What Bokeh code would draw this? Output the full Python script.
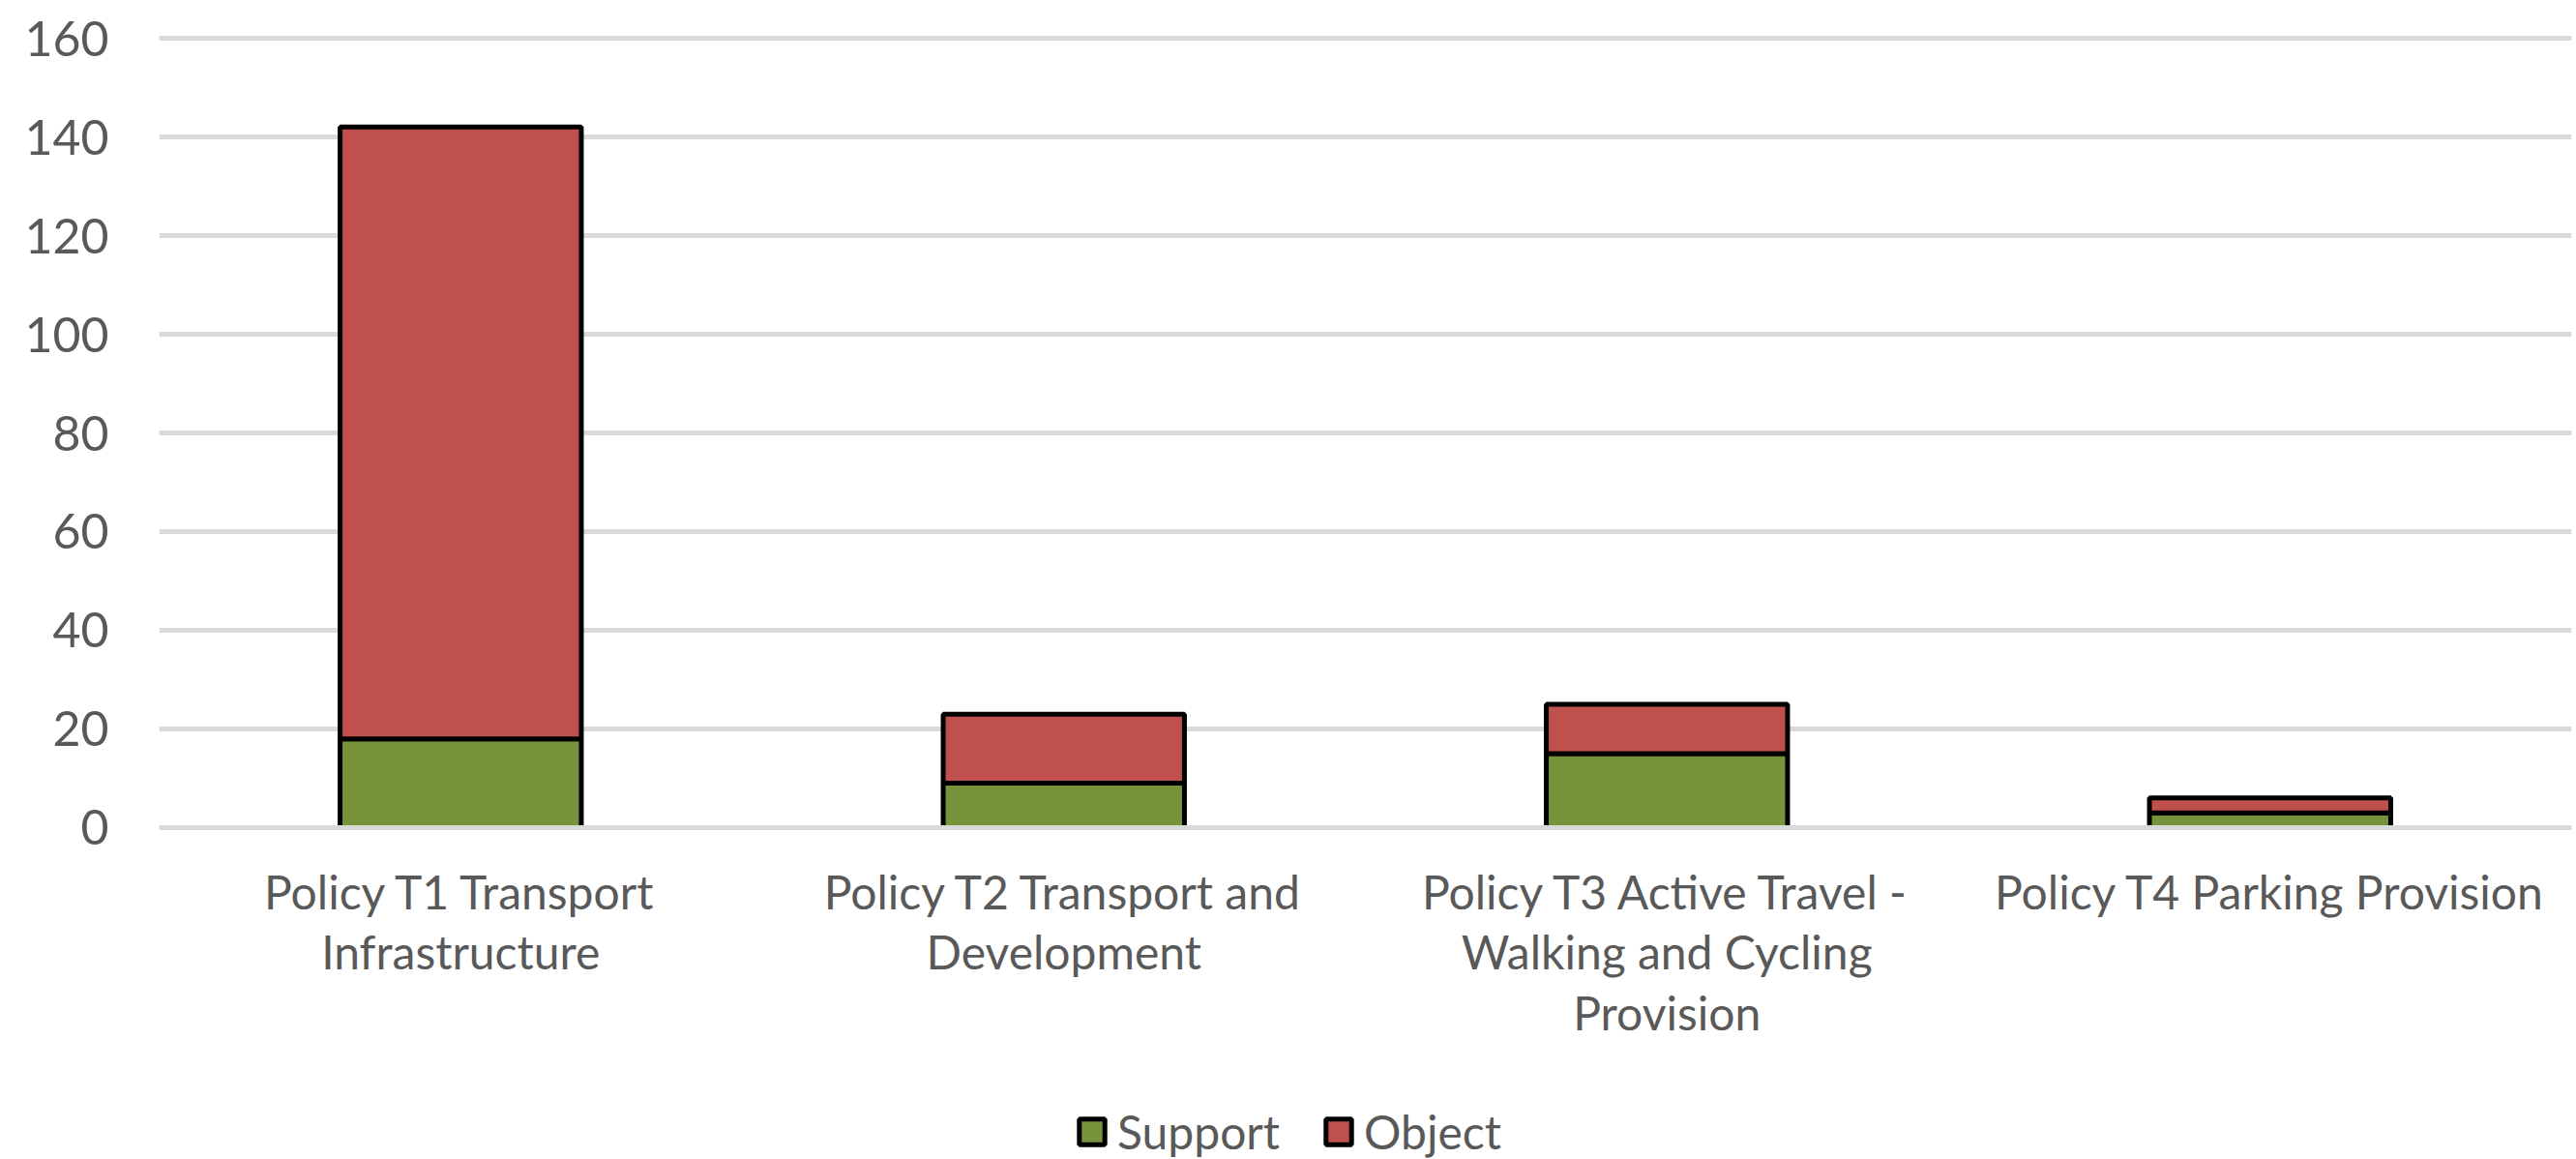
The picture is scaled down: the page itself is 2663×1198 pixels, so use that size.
from bokeh.plotting import figure
from bokeh.models import ColumnDataSource, Range1d, FixedTicker, Legend, LegendItem, Span
from bokeh.layouts import column
from bokeh.embed import file_html
from bokeh.resources import INLINE

# ---- data ----
categories = [
    "Policy T1 Transport\nInfrastructure",
    "Policy T2 Transport and\nDevelopment",
    "Policy T3 Active Travel -\nWalking and Cycling\nProvision",
    "Policy T4 Parking Provision",
]
support = [18, 9, 15, 3]
objection = [124, 14, 10, 3]
series_names = ["Support", "Object"]
y_ticks = [0, 20, 40, 60, 80, 100, 120, 140, 160]

GREEN = "#77933C"
RED = "#C0504D"
TEXT = "#595959"
GRID = "#D9D9D9"
FONT = "Lato"
COLORS = [GREEN, RED]

source = ColumnDataSource(dict(cat=categories, Support=support, Object=objection))

MAIN_H = 1110
p = figure(
    x_range=categories,
    y_range=Range1d(-0.6, 160.6),
    width=2663, height=MAIN_H,
    output_backend="svg", toolbar_location=None,
    min_border_left=164, min_border_right=5,
    min_border_top=36, min_border_bottom=252,
)
p.x_range.range_padding = 0

p.vbar_stack(
    series_names, x="cat", width=0.4, source=source,
    fill_color=COLORS, line_color="black", line_width=5,
)

p.outline_line_color = None
p.background_fill_color = "white"
p.border_fill_color = "white"

p.xgrid.grid_line_color = None
p.ygrid.grid_line_color = GRID
p.ygrid.grid_line_width = 5
p.ygrid.level = "underlay"

# horizontal axis line (drawn over the bar bottoms, as in the original)
p.add_layout(Span(location=0, dimension="width", line_color=GRID, line_width=5))

p.yaxis.ticker = FixedTicker(ticks=y_ticks)
p.yaxis.axis_line_color = None
p.yaxis.major_tick_line_color = None
p.yaxis.minor_tick_line_color = None
p.yaxis.major_tick_in = 0
p.yaxis.major_tick_out = 0
p.yaxis.major_label_standoff = 52
p.yaxis.major_label_text_font = FONT
p.yaxis.major_label_text_font_size = "50px"
p.yaxis.major_label_text_color = TEXT

p.xaxis.axis_line_color = None
p.xaxis.major_tick_line_color = None
p.xaxis.minor_tick_line_color = None
p.xaxis.major_tick_in = 0
p.xaxis.major_tick_out = 0
p.xaxis.major_label_standoff = 34
p.xaxis.major_label_text_font = FONT
p.xaxis.major_label_text_font_size = "48px"
p.xaxis.major_label_text_color = TEXT
p.xaxis.major_label_text_line_height = 1.1

# ---- legend strip below the chart (its frame is aligned with the chart's) ----
LEG_H = 1198 - MAIN_H
lf = figure(
    width=2663, height=LEG_H,
    x_range=Range1d(0, 1), y_range=Range1d(0, 1),
    output_backend="svg", toolbar_location=None,
    x_axis_type=None, y_axis_type=None,
    min_border=0,
)
lf.outline_line_color = None
lf.xgrid.grid_line_color = None
lf.ygrid.grid_line_color = None
lf.background_fill_color = "white"
lf.border_fill_color = "white"
# legend-key renderers: one undefined (NaN) row, so nothing is drawn in the strip
nan = float("nan")
key_src = ColumnDataSource(dict(x=[nan], top=[nan]))
swatches = [
    lf.vbar(x="x", top="top", bottom=0, width=0.1, source=key_src,
            fill_color=c, line_color="black", line_width=5)
    for c in COLORS
]
legend = Legend(
    items=[LegendItem(label=n, renderers=[r]) for n, r in zip(series_names, swatches)],
    orientation="horizontal",
    location=(948, 0),
    label_text_font=FONT,
    label_text_font_size="48px",
    label_text_color=TEXT,
    glyph_width=33, glyph_height=33,
    label_standoff=10, spacing=44,
    border_line_color=None, background_fill_alpha=0,
    padding=0, margin=0,
)
lf.add_layout(legend, "center")

layout = column(p, lf, spacing=0)
open("out.html", "w").write(file_html(layout, INLINE))
